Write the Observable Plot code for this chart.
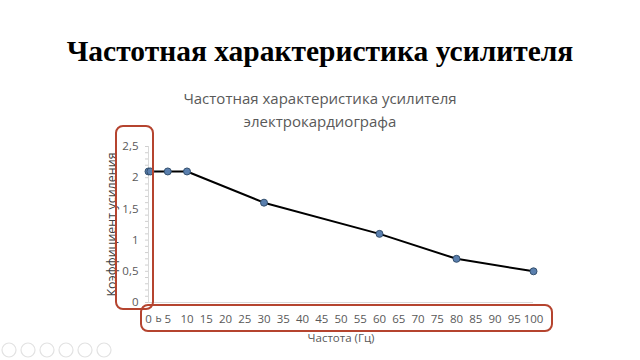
<!DOCTYPE html>
<html><head><meta charset="utf-8">
<script src="https://cdn.jsdelivr.net/npm/d3@7"></script>
<script src="https://cdn.jsdelivr.net/npm/@observablehq/plot@0.6"></script>
<style>
body{margin:0;background:#fff;width:640px;height:360px;overflow:hidden;position:relative;}
#heading{position:absolute;left:0;top:34px;width:640px;text-align:center;font-family:"Liberation Serif","DejaVu Serif",serif;font-weight:bold;font-size:29.5px;color:#000;line-height:34px;}
#ctitle{position:absolute;left:0;top:87px;width:640px;text-align:center;font-family:"Open Sans",sans-serif;font-size:15px;color:#595959;line-height:23px;}
#chart{position:absolute;left:0;top:0;}
.box{position:absolute;border:2px solid #b5442f;border-radius:8px;box-sizing:border-box;}
#icons{position:absolute;left:0;top:340px;}
</style></head><body>
<div id="chart"></div>
<div id="heading">Частотная характеристика усилителя</div>
<div id="ctitle">Частотная характеристика усилителя<br>электрокардиографа</div>
<div class="box" style="left:115px;top:125px;width:39px;height:185px;"></div>
<div class="box" style="left:140px;top:304px;width:413px;height:28px;"></div>
<svg id="icons" width="130" height="20"></svg>
<script>
const freq = [0, 0.5, 5, 10, 30, 60, 80, 100];
const gain = [2.1, 2.1, 2.1, 2.1, 1.6, 1.1, 0.7, 0.5];
const xTicks = d3.range(0, 101, 5);
const yTicks = [0, 0.5, 1, 1.5, 2, 2.5];
const yTickLabels = ["0", "0,5", "1", "1,5", "2", "2,5"];
const yMinor = d3.range(0, 2.501, 0.1);
const oddLabel = [{x: 2.6, t: "ь"}];

const data = freq.map((f, i) => ({f, g: gain[i]}));

const plot = Plot.plot({
  width: 640, height: 360,
  marginLeft: 148, marginRight: 107, marginTop: 146, marginBottom: 58,
  style: {fontFamily: "'Open Sans', sans-serif", fontSize: "11px", color: "#595959", background: "transparent"},
  x: {type: "linear", domain: [0, 100], label: null, axis: null},
  y: {type: "linear", domain: [0, 2.5], label: null, axis: null},
  marks: [
    Plot.ruleY([0], {stroke: "#d9d9d9", strokeWidth: 1}),
    Plot.ruleX([0], {stroke: "#d9d9d9", strokeWidth: 1}),
    Plot.axisY(yMinor, {anchor: "left", tickSize: 3, tickFormat: () => "", stroke: "#cfcfcf", label: null}),
    Plot.axisY(yTicks, {anchor: "left", tickSize: 0, tickPadding: 10, tickFormat: (d) => yTickLabels[yTicks.indexOf(d)], fill: "#595959", fontSize: 11.5, label: null}),
    Plot.axisY([], {anchor: "left", tickSize: 0, fill: "#404040", fontSize: 12.5, label: "Коэффициент усиления", labelAnchor: "center", labelOffset: 41, labelArrow: "none"}),
    Plot.axisX(xTicks, {anchor: "bottom", tickSize: 0, tickPadding: 12, fill: "#595959", fontSize: 11.5, label: "Частота (Гц)", labelAnchor: "center", labelOffset: 39, labelArrow: "none"}),
    Plot.text(oddLabel, {x: "x", y: () => 0, text: "t", dy: 16, fill: "#595959", fontSize: 10.5}),
    Plot.line(data, {x: "f", y: "g", stroke: "#000", strokeWidth: 2}),
    Plot.dot(data, {x: "f", y: "g", r: 3.5, fill: "#5a7fae", stroke: "#34506e", strokeWidth: 1})
  ]
});
document.getElementById("chart").appendChild(plot);

const icons = d3.select("#icons");
[9, 28, 47, 66, 85, 104].forEach(cx => icons.append("circle").attr("cx", cx).attr("cy", 10).attr("r", 7).attr("fill", "none").attr("stroke", "#e2e2e2").attr("stroke-width", 1.2));
</script>
</body></html>
